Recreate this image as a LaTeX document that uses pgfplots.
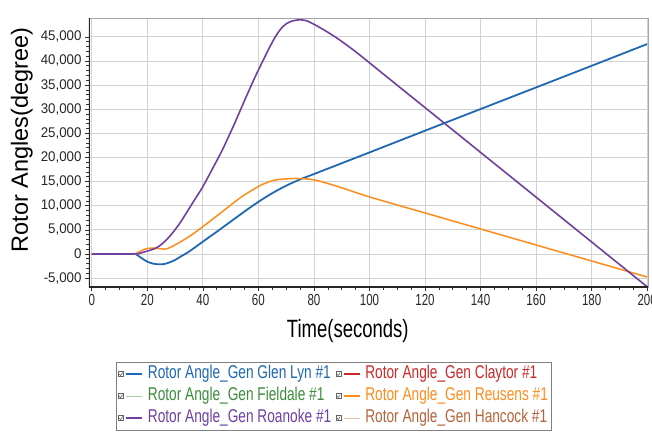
\documentclass[border=0pt]{standalone}
\usepackage{fontspec}
\setmainfont{Liberation Sans}
\newfontfamily\ytickfont[FakeStretch=0.95]{Liberation Sans}
\newfontfamily\xtickfont[FakeStretch=0.72]{Liberation Sans}
\newfontfamily\narrowfont[FakeStretch=0.74]{Liberation Sans}
\usepackage{pgfplots}
\pgfplotsset{compat=1.18}
\definecolor{glblue}{RGB}{31,104,178}
\definecolor{clred}{RGB}{204,40,40}
\definecolor{fdgreen}{RGB}{60,140,60}
\definecolor{fdline}{RGB}{170,200,170}
\definecolor{rsorange}{RGB}{255,140,26}
\definecolor{rnpurple}{RGB}{112,64,160}
\definecolor{hcbrown}{RGB}{180,100,60}
\definecolor{hcline}{RGB}{230,190,160}
\definecolor{gridc}{RGB}{210,210,210}
\begin{document}
\begin{tikzpicture}
\useasboundingbox (-89bp,-147bp) rectangle (563bp,287bp);
\begin{axis}[
  at={(0,0)}, anchor=south west,
  scale only axis, width=559bp, height=269bp,
  xmin=-1, xmax=200.3, ymin=-6850, ymax=48900,
  scaled y ticks=false, scaled x ticks=false,
  xtick={0,20,...,200},
  xticklabels={0,20,40,60,80,100,120,140,160,180,200},
  ytick={-5000,0,5000,10000,15000,20000,25000,30000,35000,40000,45000},
  yticklabels={{-5,000},{0},{5,000},{10,000},{15,000},{20,000},{25,000},{30,000},{35,000},{40,000},{45,000}},
  minor x tick num=3, minor y tick num=4,
  xtick pos=left, ytick pos=left, tick align=outside,
  major tick length=4bp, minor tick length=2.5bp,
  tick style={black!80, line width=0.6bp},
  xmajorgrids, ymajorgrids,
  major grid style={gridc, line width=0.8bp},
  axis line style={black!35, line width=0.8bp},
  xticklabel style={font=\xtickfont\fontsize{16bp}{18bp}\selectfont, text=black!85},
  yticklabel style={font=\ytickfont\fontsize{14bp}{16bp}\selectfont, text=black!85},
  xlabel={Time(seconds)},
  xlabel style={font=\narrowfont\fontsize{25bp}{28bp}\selectfont, at={(axis description cs:0.463,-0.186)}, anchor=base},
  ylabel={Rotor Angles(degree)},
  ylabel style={font=\fontsize{23.5bp}{26bp}\selectfont, at={(axis description cs:-0.12,0.546)}, anchor=center, rotate=0},
  legend columns=2,
  legend cell align=left,
  legend style={at={(axis description cs:0.0483,-0.279)}, anchor=north west,
    draw=black!50, line width=0.6bp, inner xsep=2bp, inner ysep=2bp,
    column sep=3bp, row sep=2.5bp,
    nodes={font=\narrowfont\fontsize{18.5bp}{20bp}\selectfont, inner sep=1.5bp, text height=13bp, text depth=3.5bp}},
  legend image code/.code={
    \draw[black!60, line width=0.4bp, fill=white, solid] (-9bp,-2.5bp) rectangle (-4bp,2.5bp);
    \draw[black!70, line width=0.5bp, solid] (-8.2bp,0bp) -- (-6.8bp,-1.5bp) -- (-4.8bp,1.6bp);
    \draw[#1] (-1bp,0bp) -- (15bp,0bp);
  },
]
\addplot[glblue, line width=1.8bp, smooth, tension=0.4] coordinates {
(0,0) (15,0) (16,-100) (18,-890) (20,-1600) (22,-2000) (24,-2150) (26,-2100)
(28,-1750) (30,-1240) (32,-550) (35,480) (40,2550) (45,4600) (50,6700)
(55,8800) (60,10800) (65,12600) (70,14150) (75,15450) (80,16560) (100,21040)
(127,27120) (150,32270) (175,37870) (200,43500)};
\addlegendentry{\textcolor{glblue}{Rotor Angle\_Gen Glen Lyn \#1}}
\addlegendimage{clred, line width=1.6bp}
\addlegendentry{\textcolor{clred}{Rotor Angle\_Gen Claytor \#1}}
\addlegendimage{fdline, line width=0.8bp}
\addlegendentry{\textcolor{fdgreen}{Rotor Angle\_Gen Fieldale \#1}}
\addplot[rsorange, line width=1.5bp, smooth, tension=0.4] coordinates {
(0,0) (15,0) (16,100) (18,700) (20,1150) (23,1180) (26.5,1000) (28,1300)
(30,1860) (35,3580) (40,5650) (47,8760) (54,11860) (61,14290) (66,15320)
(71,15600) (74,15640) (77,15580) (79.5,15420) (82,15100) (85,14600) (90,13720)
(100,11820) (120,8500) (140,5180) (160,1860) (180,-1460) (200,-4780)};
\addlegendentry{\textcolor{rsorange}{Rotor Angle\_Gen Reusens \#1}}
\addplot[rnpurple, line width=1.6bp, smooth, tension=0.4] coordinates {
(0,0) (15,0) (17,100) (19.3,480) (22,950) (24,1510) (26.5,2700) (29,4290)
(31.5,6200) (34,8430) (37,11200) (40,13940) (44.5,18780) (47,21530)
(51,26500) (55.6,32570) (58.5,36300) (61.6,40000) (64,42800) (66,44900)
(68,46600) (70,47700) (72,48250) (74,48480) (75.5,48520) (77.5,48300)
(80,47600) (84,46300) (88,44850) (92,43220) (96,41470) (100,39610)
(127,27085) (160,11770) (200,-6800)};
\addlegendentry{\textcolor{rnpurple}{Rotor Angle\_Gen Roanoke \#1}}
\addlegendimage{hcline, line width=0.8bp}
\addlegendentry{\textcolor{hcbrown}{Rotor Angle\_Gen Hancock \#1}}
\draw[black!85, line width=1.2bp] (rel axis cs:0,1) -- (rel axis cs:0,0) -- (rel axis cs:1,0);
\end{axis}
\end{tikzpicture}
\end{document}
